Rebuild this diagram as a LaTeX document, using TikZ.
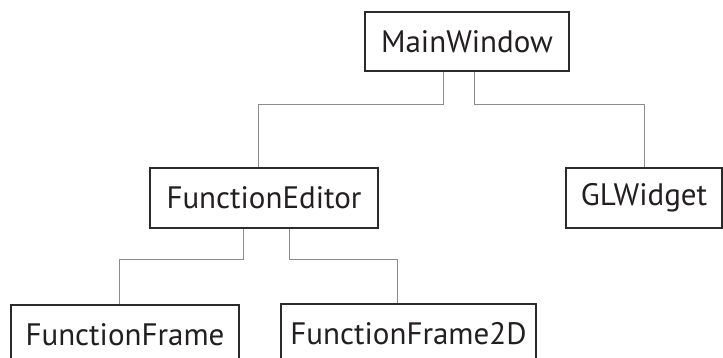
\documentclass[tikz,border=0pt]{standalone}
\usepackage{fontspec}
\setmainfont{PT Sans}
\definecolor{boxline}{HTML}{2B2B2B}
\definecolor{textcol}{HTML}{231F20}
\definecolor{linkgray}{HTML}{8C8C8C}
\begin{document}
\begin{tikzpicture}[x=1pt,y=-1pt,
  cls/.style={draw=boxline, line width=1.4pt, fill=white, inner sep=0pt,
    minimum height=60pt, font=\fontsize{31}{36}\selectfont, text=textcol},
  link/.style={draw=linkgray, line width=1pt}]
\useasboundingbox (0,0) rectangle (723,358);

% class boxes
\node[cls, minimum width=204pt, minimum height=59pt] (mw) at (467,41.5) {MainWindow};
\node[cls, minimum width=228pt] (fe) at (264,198) {FunctionEditor};
\node[cls, minimum width=156pt] (gl) at (644,198) {GLWidget};
\node[cls, minimum width=228pt] (ff) at (125,335) {FunctionFrame};
\node[cls, minimum width=255pt] (ff2) at (408.5,334) {FunctionFrame2D};

% orthogonal links from parent to child
\draw[link] ([xshift=-24pt]mw.south) -- ++(0,33) -| ([xshift=-6pt]fe.north);
\draw[link] ([xshift=7pt]mw.south) -- ++(0,33) -| (gl.north);
\draw[link] ([xshift=-21pt]fe.south) -- ++(0,31) -| ([xshift=-6pt]ff.north);
\draw[link] ([xshift=25pt]fe.south) -- ++(0,31) -| ([xshift=-11.5pt]ff2.north);
\end{tikzpicture}
\end{document}
